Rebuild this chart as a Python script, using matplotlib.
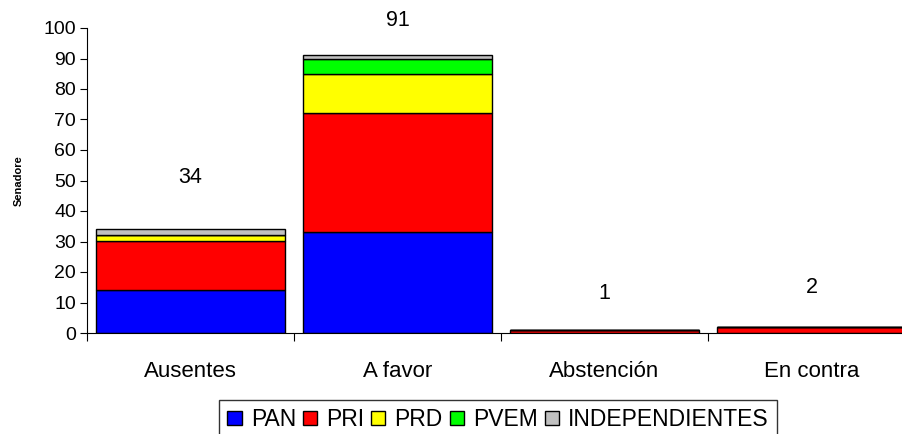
import matplotlib.pyplot as plt
import numpy as np

plt.rcParams['font.family'] = ['Liberation Sans', 'DejaVu Sans']

categorias = ['Ausentes', 'A favor', 'Abstención', 'En contra']
pan = [14, 33, 0, 0]
pri = [16, 39, 1, 2]
prd = [2, 13, 0, 0]
pvem = [0, 5, 0, 0]
independientes = [2, 1, 0, 0]
totales = [34, 91, 1, 2]
# posicion vertical de las etiquetas de total
pos_etiquetas = [51, 102.6, 13, 15]

series = [('PAN', pan, '#0000ff'), ('PRI', pri, '#ff0000'),
          ('PRD', prd, '#ffff00'), ('PVEM', pvem, '#00ff00'),
          ('INDEPENDIENTES', independientes, '#c0c0c0')]

fig = plt.figure(figsize=(9.03, 4.34), dpi=100)
# el eje se sale un poco por la derecha, como en el original
ax = fig.add_axes([87/903, 1-333/434, 828/903, (333-28)/434])

x = np.arange(len(categorias))
base = np.zeros(len(categorias))
for nombre, valores, color in series:
    v = np.array(valores, dtype=float)
    ax.bar(x, v, bottom=base, width=0.91, color=color, edgecolor='black',
           linewidth=1, label=nombre)
    base += v

for xi, t, y in zip(x, totales, pos_etiquetas):
    ax.text(xi, y, str(t), ha='center', va='center', fontsize=15.5)

ax.set_xlim(-0.5, len(categorias) - 0.5)
ax.set_ylim(0, 100)
ax.set_yticks(range(0, 101, 10))
ax.set_xticks(np.arange(-0.5, len(categorias), 1))
ax.set_xticklabels([])
ax.set_xticks(x, minor=True)
ax.set_xticklabels(categorias, minor=True, fontsize=16)
ax.tick_params(axis='x', which='minor', length=0, pad=20)
ax.tick_params(axis='x', which='major', length=6, direction='out')
ax.tick_params(axis='y', length=5, direction='out', labelsize=14, pad=3)
ax.spines['top'].set_visible(False)
ax.spines['right'].set_visible(False)
ax.set_ylabel('Senadore', fontsize=8, fontweight='bold', labelpad=14)

leg = fig.legend(loc='upper center', bbox_to_anchor=(0.5515, 1 - 400/434), ncol=5,
                 fontsize=16.5, frameon=True, fancybox=False, edgecolor='black',
                 handlelength=0.62, handleheight=0.62, handletextpad=0.4,
                 columnspacing=0.3, borderpad=0.35, borderaxespad=0.0)
leg.get_frame().set_linewidth(1)

fig.savefig('out.png', dpi=100)
